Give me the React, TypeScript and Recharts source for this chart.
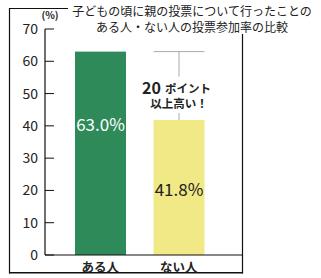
import React from 'react';
import { BarChart, Bar, XAxis, YAxis, LabelList, Cell, Customized } from 'recharts';

const categories = ['ある人', 'ない人'];
const values = [63.0, 41.8];
const valueLabels = ['63.0%', '41.8%'];
const yTicks = [0, 10, 20, 30, 40, 50, 60, 70];
const titleLines = ['子どもの頃に親の投票について行ったことの', 'ある人・ない人の投票参加率の比較'];
const unitLabel = '(%)';
const noteBig = '20';
const noteSmall = 'ポイント';
const noteLine2 = '以上高い！';

const colors = ['#2f8a5a', '#f1e986'];
const labelColors = ['#ffffff', '#222222'];
const labelFrac = [0.36, 0.52];

const data = categories.map((c, i) => ({ name: c, value: values[i], label: valueLabels[i] }));

const FONT = '"Noto Sans CJK JP", "Noto Sans", sans-serif';

const YTick = (props: any) => {
  const { x, y, payload } = props;
  return (
    <g>
      <line x1={x} x2={x + 9} y1={y} y2={y} stroke="#111" strokeWidth={1} />
      <text x={x - 7} y={y} dy={5} textAnchor="end" fontSize={14} fill="#222" fontFamily={FONT}>
        {payload.value}
      </text>
    </g>
  );
};

const XTick = (props: any) => {
  const { x, y, payload } = props;
  return (
    <text x={x} y={y} dy={15} textAnchor="middle" fontSize={12.5} fontWeight="bold" fill="#222" fontFamily={FONT}>
      {payload.value}
    </text>
  );
};

const BarShape = (props: any) => {
  const { x, y, width, height, index, fill } = props;
  const els: any[] = [<rect key="r" x={x} y={y} width={width} height={height} fill={fill} />];
  if (index === 1) {
    const zeroY = y + height;
    const refY = zeroY - (height * values[0]) / values[1];
    const cx = x + width / 2;
    els.push(
      <g key="b">
        <line x1={x} x2={x + width} y1={refY} y2={refY} stroke="#aaa" strokeWidth={1} />
        <line x1={cx} x2={cx} y1={refY} y2={refY + 25} stroke="#aaa" strokeWidth={1} />
        <line x1={cx} x2={cx} y1={y - 7} y2={y} stroke="#aaa" strokeWidth={1} />
        <text x={cx - 18} y={refY + 42} textAnchor="end" fill="#222" fontFamily={FONT} fontWeight="bold" fontSize={16}>
          {noteBig}
        </text>
        <text x={cx - 14} y={refY + 41} textAnchor="start" fill="#222" fontFamily={FONT} fontWeight="bold" fontSize={11.5}>
          {noteSmall}
        </text>
        <text x={cx} y={refY + 56} textAnchor="middle" fill="#222" fontFamily={FONT} fontWeight="bold" fontSize={11.5}>
          {noteLine2}
        </text>
      </g>
    );
  }
  return <g>{els}</g>;
};

const ValueLabel = (props: any) => {
  const { x, y, width, height, index, value } = props;
  return (
    <text
      x={x + width / 2}
      y={y + height * labelFrac[index]}
      dy={6}
      textAnchor="middle"
      fontSize={17}
      fill={labelColors[index]}
      fontFamily={FONT}
    >
      {value}
    </text>
  );
};

const Frame = () => (
  <g>
    <line x1={9} x2={68} y1={8.5} y2={8.5} stroke="#111" strokeWidth={1.2} />
    <line x1={9.5} x2={9.5} y1={8} y2={273.5} stroke="#111" strokeWidth={1.2} />
    <rect x={9} y={272} width={234} height={1.5} fill="#111" />
    <line x1={242.5} x2={242.5} y1={34} y2={273.5} stroke="#111" strokeWidth={1.2} />
    <text x={192} y={16} textAnchor="middle" fontSize={12} fill="#222" fontFamily={FONT}>{titleLines[0]}</text>
    <text x={192} y={32} textAnchor="middle" fontSize={12} fill="#222" fontFamily={FONT}>{titleLines[1]}</text>
    <text x={50} y={19} textAnchor="middle" fontSize={10} fontWeight="bold" fill="#222" fontFamily={FONT}>{unitLabel}</text>
  </g>
);

export default function App() {
  return (
    <div style={{ position: 'absolute', left: 0, top: 0, width: 321, height: 278, background: '#fff' }}>
      <BarChart
        width={321}
        height={278}
        data={data}
        margin={{ top: 29, right: 79, bottom: 0, left: 0 }}
        barSize={51}
      >
        <Customized component={Frame} />
        <YAxis
          width={45}
          domain={[0, 70]}
          ticks={yTicks}
          interval={0}
          tickSize={0}
          tickMargin={0}
          tickLine={false}
          axisLine={{ stroke: '#111', strokeWidth: 1.2 }}
          tick={<YTick />}
          allowDataOverflow
        />
        <XAxis
          dataKey="name"
          height={23}
          padding={{ left: 16, right: 24 }}
          tickLine={false}
          tickSize={0}
          axisLine={{ stroke: '#111', strokeWidth: 1.2 }}
          tick={<XTick />}
        />
        <Bar dataKey="value" isAnimationActive={false} shape={<BarShape />}>
          {data.map((d, i) => (
            <Cell key={d.name} fill={colors[i]} />
          ))}
          <LabelList dataKey="label" content={<ValueLabel />} />
        </Bar>
      </BarChart>
    </div>
  );
}
